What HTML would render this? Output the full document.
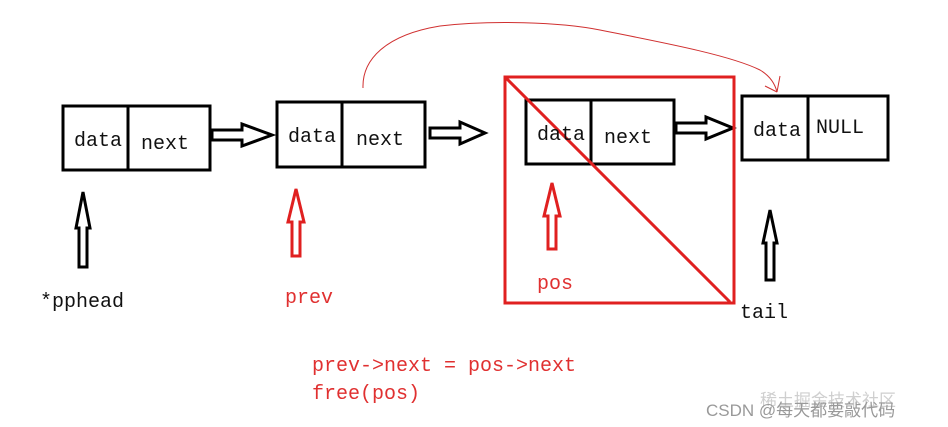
<!DOCTYPE html>
<html><head><meta charset="utf-8"><style>
html,body{margin:0;padding:0;background:#fff;}
svg{display:block}
text{font-family:"Liberation Mono","Noto Serif CJK SC",monospace;font-size:20px;}
</style></head><body>
<svg width="948" height="427" viewBox="0 0 948 427" xmlns="http://www.w3.org/2000/svg">
<rect width="948" height="427" fill="#fff"/>
<g fill="none" stroke="#000" stroke-width="3">
<rect x="63" y="106" width="147" height="64"/><line x1="128" y1="106" x2="128" y2="170"/>
<rect x="277" y="102" width="148" height="65"/><line x1="342" y1="102" x2="342" y2="167"/>
<rect x="526" y="100" width="148" height="64"/><line x1="591" y1="100" x2="591" y2="164"/>
<rect x="742" y="96" width="146" height="64"/><line x1="808" y1="96" x2="808" y2="160"/>
<polygon points="212,130 242,130 242,124 272,135 242,146 242,140 212,140"/>
<polygon points="430,128 460,128 460,122 485,133 460,144 460,138 430,138"/>
<polygon points="676,123 706,123 706,117 733,128 706,139 706,133 676,133"/>
<polygon points="79,267 79,228 76,228 83,192 90,228 87,228 87,267"/>
<polygon points="766,280 766,243 763,243 770,210 777,243 774,243 774,280"/>
</g>
<g fill="none" stroke="#e02020" stroke-width="3">
<polygon points="292,256 292,222 288,222 296,189 304,222 300,222 300,256"/>
<polygon points="548,249 548,216 544,216 552,183 560,216 556,216 556,249"/>
<rect x="505" y="77" width="229" height="226"/>
<line x1="506" y1="78" x2="730" y2="302"/>
</g>
<path d="M363,88 C362,60 385,35 440,26 C490,20 560,22 600,30 C660,42 730,55 760,70 C770,76 775,84 777,92 M765,86 L777,92 M780,76 L777,92" fill="none" stroke="#d03030" stroke-width="1"/>
<g fill="#111">
<text x="74" y="146">data</text><text x="141" y="149">next</text>
<text x="288" y="142">data</text><text x="356" y="145">next</text>
<text x="537" y="140">data</text><text x="604" y="143">next</text>
<text x="753" y="136">data</text><text x="816" y="133">NULL</text>
<text x="40" y="307">*pphead</text>
<text x="740" y="318">tail</text>
</g>
<g fill="#e03030">
<text x="285" y="303">prev</text>
<text x="537" y="289">pos</text>
<text x="312" y="371">prev-&gt;next = pos-&gt;next</text>
<text x="312" y="399">free(pos)</text>
</g>
<text x="760" y="406" style="font-family:'Liberation Sans','Noto Sans CJK SC',sans-serif;font-size:17px" fill="#bbb" opacity="0.7">稀土掘金技术社区</text>
<text x="706" y="416" style="font-family:'Liberation Sans','Noto Sans CJK SC',sans-serif;font-size:17px" fill="#999">CSDN @每天都要敲代码</text>
</svg>
</body></html>
